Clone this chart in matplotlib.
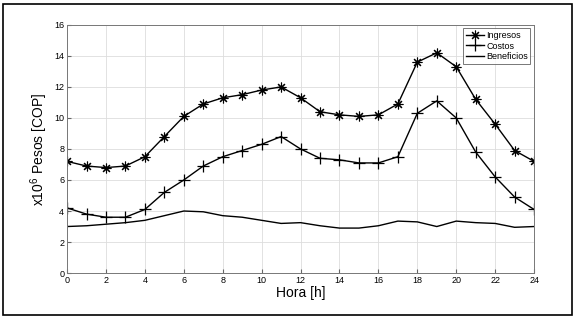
import matplotlib
matplotlib.use("Agg")
import matplotlib.pyplot as plt
from matplotlib.patches import Rectangle

plt.rcParams["font.family"] = ["Liberation Sans", "DejaVu Sans"]
plt.rcParams["mathtext.fontset"] = "custom"
plt.rcParams["mathtext.rm"] = "Liberation Sans"

hora = list(range(25))
ingresos = [7.2, 6.9, 6.8, 6.9, 7.5, 8.8, 10.1, 10.9, 11.3, 11.5, 11.8, 12.0, 11.3,
            10.4, 10.2, 10.1, 10.2, 10.9, 13.6, 14.2, 13.3, 11.2, 9.6, 7.9, 7.2]
costos = [4.2, 3.8, 3.6, 3.6, 4.1, 5.2, 6.0, 6.9, 7.5, 7.9, 8.3, 8.8, 8.0,
          7.4, 7.3, 7.1, 7.1, 7.5, 10.3, 11.1, 10.0, 7.8, 6.2, 4.9, 4.1]
beneficios = [3.0, 3.05, 3.15, 3.25, 3.4, 3.7, 4.0, 3.95, 3.7, 3.6, 3.4, 3.2, 3.25,
              3.05, 2.9, 2.9, 3.05, 3.35, 3.3, 3.0, 3.35, 3.25, 3.2, 2.95, 3.0]

fig = plt.figure(figsize=(5.78, 3.19), dpi=100)
ax = fig.add_axes([0.116, 0.144, 0.808, 0.778])

ax.plot(hora, ingresos, color="black", lw=1, marker=(8, 2, 0), ms=7, mew=0.8, label="Ingresos")
ax.plot(hora, costos, color="black", lw=1, marker="+", ms=8, mew=0.9, label="Costos")
ax.plot(hora, beneficios, color="black", lw=1, label="Beneficios")

ax.set_xlim(0, 24)
ax.set_ylim(0, 16)
ax.set_xticks(range(0, 25, 2))
ax.set_yticks(range(0, 17, 2))
ax.tick_params(labelsize=6.5, direction="in", length=3, color="#666666", pad=2)
ax.grid(True, color="#dddddd", lw=0.6)
for s in ax.spines.values():
    s.set_color("#777777")
    s.set_linewidth(0.7)

ax.set_xlabel("Hora [h]", fontsize=10, labelpad=1)
ax.set_ylabel("x10$^6$ Pesos [COP]", fontsize=10, labelpad=3)

leg = ax.legend(loc="upper right", fontsize=6.5, frameon=True, fancybox=False,
                edgecolor="#555555", handlelength=2, borderpad=0.3,
                labelspacing=0.15, handletextpad=0.2, borderaxespad=0.4)
leg.get_frame().set_linewidth(0.7)

fig.patches.append(Rectangle((0.006, 0.013), 0.984, 0.975, transform=fig.transFigure,
                             fill=False, edgecolor="black", lw=1.2))

fig.savefig("out.png", dpi=100)
